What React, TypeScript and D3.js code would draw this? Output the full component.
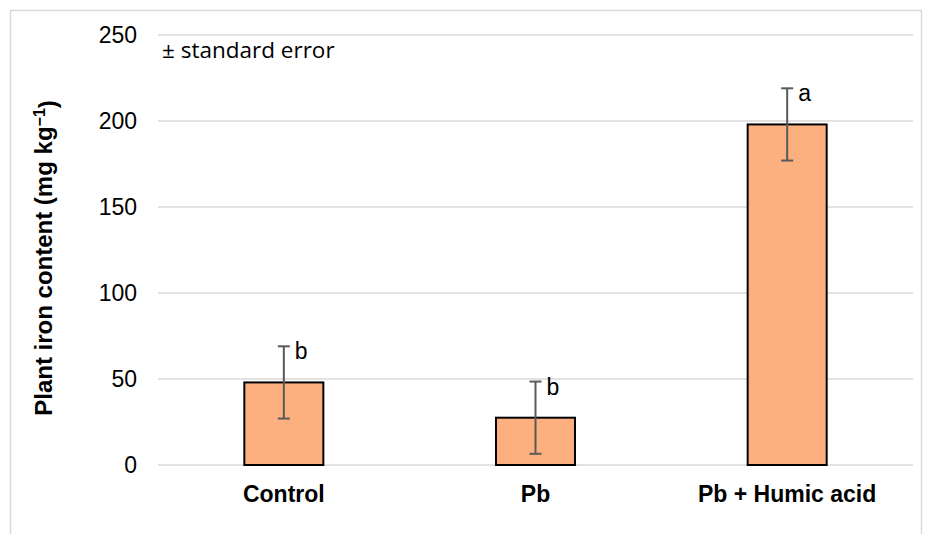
import React, { useRef, useEffect } from "react";
import * as d3 from "d3";

const categories = ["Control", "Pb", "Pb + Humic acid"];
const ironValues = [48, 27.5, 198];
const stdErrors = [21, 21, 21];
const sigLetters = ["b", "b", "a"];
const yTicks = [0, 50, 100, 150, 200, 250];

const App = () => {
  const svgRef = useRef<SVGSVGElement>(null);

  useEffect(() => {
    const width = 927;
    const height = 534;
    const marginLeft = 158;
    const marginRight = 14;
    const marginTop = 35;
    const marginBottom = 69;
    const font = "'Liberation Sans', Arial, sans-serif";

    const svg = d3.select(svgRef.current);
    svg.selectAll("*").remove();

    // outer chart border
    svg.append("rect")
      .attr("x", 10.5)
      .attr("y", 10.5)
      .attr("width", 911)
      .attr("height", 540)
      .attr("fill", "#fff")
      .attr("stroke", "#d9d9d9")
      .attr("stroke-width", 1.5);

    const x = d3.scaleBand()
      .domain(categories)
      .range([marginLeft, width - marginRight])
      .paddingInner(0.686)
      .paddingOuter(0.343);

    const y = d3.scaleLinear()
      .domain([0, 250])
      .range([height - marginBottom, marginTop]);

    // grid lines
    svg.append("g")
      .selectAll("line")
      .data(yTicks)
      .join("line")
      .attr("x1", marginLeft)
      .attr("x2", width - marginRight)
      .attr("y1", (d) => y(d))
      .attr("y2", (d) => y(d))
      .attr("stroke", "#d9d9d9")
      .attr("stroke-width", 1.5);

    // y tick labels
    svg.append("g")
      .selectAll("text")
      .data(yTicks)
      .join("text")
      .attr("x", 137)
      .attr("y", (d) => y(d))
      .attr("dy", "0.35em")
      .attr("text-anchor", "end")
      .attr("fill", "#000")
      .style("font-family", font)
      .style("font-size", "23px")
      .text((d) => d);

    const data = categories.map((c, i) => ({
      cat: c,
      value: ironValues[i],
      se: stdErrors[i],
      letter: sigLetters[i],
    }));

    // bars
    svg.append("g")
      .selectAll("rect")
      .data(data)
      .join("rect")
      .attr("x", (d) => x(d.cat)!)
      .attr("y", (d) => y(d.value))
      .attr("width", x.bandwidth())
      .attr("height", (d) => y(0) - y(d.value))
      .attr("fill", "#fdb07f")
      .attr("stroke", "#000")
      .attr("stroke-width", 2);

    // error bars
    const eb = svg.append("g")
      .selectAll("g")
      .data(data)
      .join("g")
      .attr("stroke", "#595959")
      .attr("stroke-width", 2);

    const cx = (d) => x(d.cat)! + x.bandwidth() / 2;
    eb.append("line")
      .attr("x1", cx)
      .attr("x2", cx)
      .attr("y1", (d) => y(d.value + d.se))
      .attr("y2", (d) => y(d.value - d.se));
    eb.append("line")
      .attr("x1", (d) => cx(d) - 6)
      .attr("x2", (d) => cx(d) + 6)
      .attr("y1", (d) => y(d.value + d.se))
      .attr("y2", (d) => y(d.value + d.se));
    eb.append("line")
      .attr("x1", (d) => cx(d) - 6)
      .attr("x2", (d) => cx(d) + 6)
      .attr("y1", (d) => y(d.value - d.se))
      .attr("y2", (d) => y(d.value - d.se));

    // significance letters
    svg.append("g")
      .selectAll("text")
      .data(data)
      .join("text")
      .attr("x", (d) => cx(d) + 11)
      .attr("y", (d) => y(d.value + d.se) + 13)
      .attr("fill", "#000")
      .style("font-family", font)
      .style("font-size", "23px")
      .text((d) => d.letter);

    // category labels
    svg.append("g")
      .selectAll("text")
      .data(categories)
      .join("text")
      .attr("x", (d) => x(d)! + x.bandwidth() / 2)
      .attr("y", 502)
      .attr("text-anchor", "middle")
      .attr("fill", "#000")
      .style("font-family", font)
      .style("font-size", "23px")
      .style("font-weight", "700")
      .text((d) => d);

    // y axis title
    const yTitle = svg.append("text")
      .attr("transform", "translate(52,258) rotate(-90)")
      .attr("text-anchor", "middle")
      .attr("fill", "#000")
      .style("font-family", font)
      .style("font-size", "24px")
      .style("font-weight", "700");
    yTitle.append("tspan").text("Plant iron content (mg kg");
    yTitle.append("tspan").attr("dy", "-0.45em").style("font-size", "16px").text("−1");
    yTitle.append("tspan").attr("dy", "0.45em").text(")");

    // note
    svg.append("text")
      .attr("x", 162)
      .attr("y", 58)
      .attr("fill", "#000")
      .style("font-family", "'Open Sans', sans-serif")
      .style("font-size", "22.5px")
      .text("± standard error");
  }, []);

  return (
    <div style={{ position: "absolute", left: 0, top: 0 }}>
      <svg ref={svgRef} width={927} height={534} style={{ display: "block" }}></svg>
    </div>
  );
};

export default App;
